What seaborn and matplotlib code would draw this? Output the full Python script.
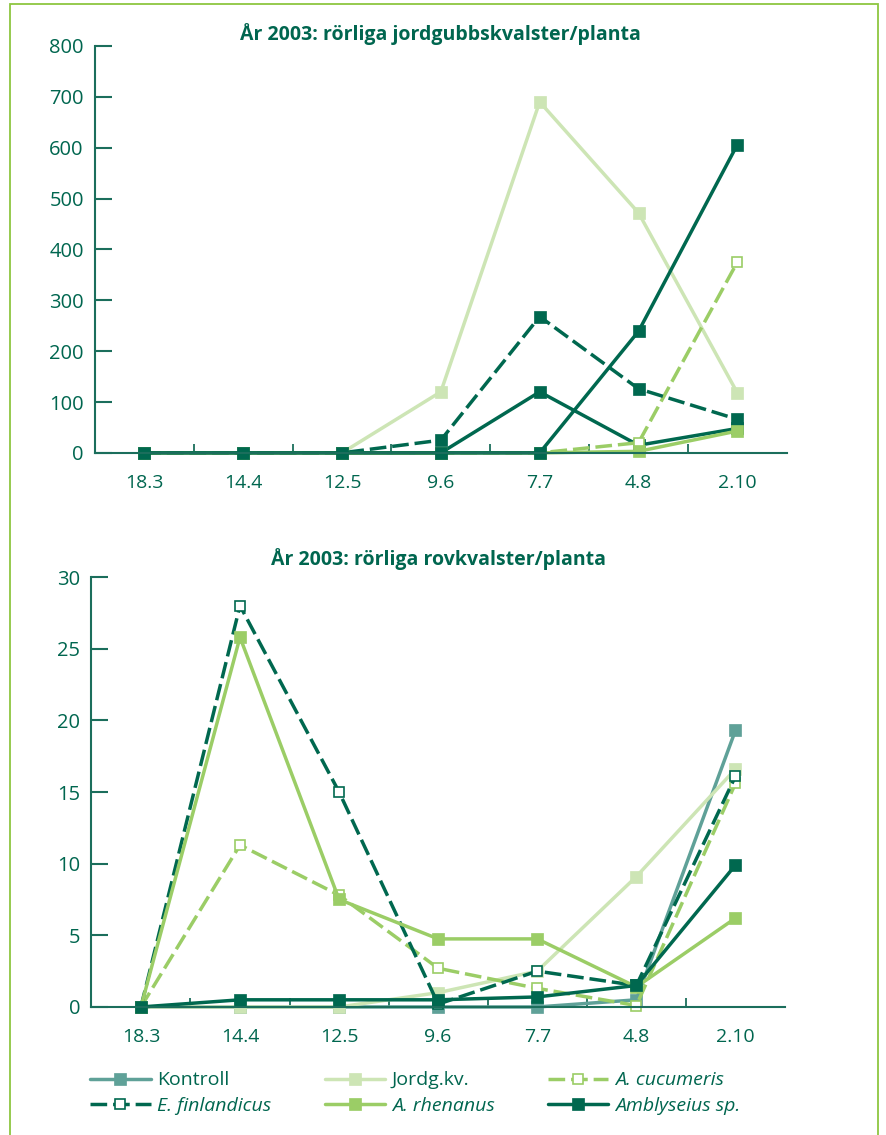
import matplotlib
matplotlib.use("Agg")
import matplotlib.pyplot as plt
import matplotlib.patches as mpatches
from matplotlib.ticker import FixedLocator
import seaborn as sns

# sampling dates (x categories)
dates = ['18.3', '14.4', '12.5', '9.6', '7.7', '4.8', '2.10']

# top chart: mobile strawberry mites per plant
top_kontroll = [0, 0, 0, 0, 120, 15, 48]
top_jordg = [0, 0, 0, 120, 690, 472, 118]
top_cucumeris = [0, 0, 0, 0, 0, 20, 375]
top_finlandicus = [0, 0, 0, 25, 268, 126, 66]
top_rhenanus = [0, 0, 0, 0, 0, 3, 43]
top_amblyseius = [0, 0, 0, 0, 0, 239, 606]

# bottom chart: mobile predatory mites per plant
bot_kontroll = [0, 0, 0, 0, 0, 0.5, 19.3]
bot_jordg = [0, 0, 0, 1.0, 2.5, 9.1, 16.6]
bot_cucumeris = [0, 11.3, 7.8, 2.7, 1.3, 0.1, 15.6]
bot_finlandicus = [0, 28.0, 15.0, 0.2, 2.5, 1.5, 16.1]
bot_rhenanus = [0, 25.8, 7.5, 4.75, 4.75, 1.4, 6.2]
bot_amblyseius = [0, 0.5, 0.5, 0.5, 0.7, 1.5, 9.9]

labels = ['Kontroll', 'Jordg.kv.', 'A. cucumeris', 'E. finlandicus',
          'A. rhenanus', 'Amblyseius sp.']

DARK = '#00684F'
TEAL = '#5FA198'
LIGHT = '#CDE5B5'
MID = '#9BCD66'
TXT = '#00664F'
AXC = '#1B6E5C'
DASH = (0, (4.8, 1.7))

sns.set_style('white')
plt.rcParams['font.family'] = ['Open Sans', 'DejaVu Sans']

# (color, linestyle, marker face) per series
top_styles = [
    (DARK, '-', DARK),
    (LIGHT, '-', LIGHT),
    (MID, DASH, 'white'),
    (DARK, DASH, DARK),
    (MID, '-', MID),
    (DARK, '-', DARK),
]
bot_styles = [
    (TEAL, '-', TEAL),
    (LIGHT, '-', LIGHT),
    (MID, DASH, 'white'),
    (DARK, DASH, 'white'),
    (MID, '-', MID),
    (DARK, '-', DARK),
]

fig = plt.figure(figsize=(8.87, 11.35), dpi=100)
ax1 = fig.add_axes([0.107, 0.601, 0.78, 0.3585])
ax2 = fig.add_axes([0.103, 0.1128, 0.782, 0.3788])

xpos = list(range(len(dates)))


def draw(ax, series, styles, ymax, ystep, title, tpad):
    lines = []
    for vals, (c, ls, fc), lab in zip(series, styles, labels):
        open_mk = fc == 'white'
        sns.lineplot(x=xpos, y=vals, ax=ax, color=c, linestyle=ls, lw=2.5,
                     marker='s', markersize=7.5 if open_mk else 8.5,
                     markerfacecolor=fc, markeredgecolor=c,
                     markeredgewidth=1.2 if open_mk else 0.5,
                     sort=False, errorbar=None, label=lab, legend=False)
        lines.append(ax.lines[-1])
    ax.set_xlim(-0.5, 6.5)
    ax.set_ylim(0, ymax)
    ax.set_xticks(xpos)
    ax.set_xticklabels(dates)
    ax.xaxis.set_minor_locator(FixedLocator([0.5, 1.5, 2.5, 3.5, 4.5, 5.5]))
    ax.set_yticks(range(0, ymax + 1, ystep))
    ax.tick_params(axis='x', which='major', length=0, pad=15, labelsize=14,
                   labelcolor=TXT)
    ax.tick_params(axis='x', which='minor', direction='in', length=6.5,
                   width=1.3, color=AXC, bottom=True)
    ax.tick_params(axis='y', direction='in', length=12, width=1.5, color=AXC,
                   pad=8, labelsize=14.5, labelcolor=TXT, left=True)
    for s in ['top', 'right']:
        ax.spines[s].set_visible(False)
    for s in ['left', 'bottom']:
        ax.spines[s].set_color(AXC)
        ax.spines[s].set_linewidth(1.5)
    ax.set_xlabel('')
    ax.set_ylabel('')
    ax.set_title(title, fontsize=14, fontweight='bold', color=TXT, pad=tpad)
    for ln in ax.lines:
        ln.set_clip_on(False)
    return lines


draw(ax1, [top_kontroll, top_jordg, top_cucumeris, top_finlandicus,
           top_rhenanus, top_amblyseius], top_styles, 800, 100,
     'År 2003: rörliga jordgubbskvalster/planta', 4)
handles = draw(ax2, [bot_kontroll, bot_jordg, bot_cucumeris, bot_finlandicus,
                     bot_rhenanus, bot_amblyseius], bot_styles, 30, 5,
               'År 2003: rörliga rovkvalster/planta', 9)

# legend: row-major order as in the original
order = [0, 3, 1, 4, 2, 5]
leg = fig.legend([handles[i] for i in order], [labels[i] for i in order],
                 ncol=3, loc='upper left', bbox_to_anchor=(0.082, 0.0715),
                 frameon=False, fontsize=14, handlelength=3.1,
                 handletextpad=0.35, columnspacing=2.75, labelspacing=0.38)
for t in leg.get_texts():
    t.set_color(TXT)
    if t.get_text() not in ('Kontroll', 'Jordg.kv.'):
        t.set_style('italic')

# light green frame around the figure
frame = mpatches.Rectangle((10 / 887, -0.05), 868 / 887, 1.0 - 4 / 1135 + 0.05,
                           transform=fig.transFigure, fill=False,
                           edgecolor='#8DC640', lw=1.3)
fig.patches.append(frame)

fig.savefig('out.png', dpi=100)
